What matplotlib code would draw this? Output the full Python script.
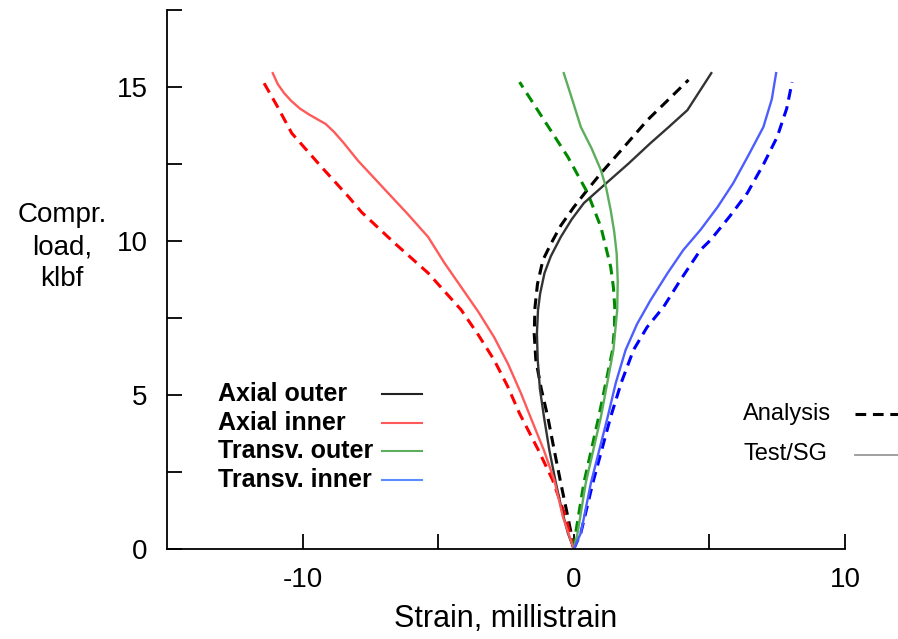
import matplotlib
matplotlib.use("Agg")
import matplotlib.pyplot as plt
from matplotlib.lines import Line2D

plt.rcParams["font.family"] = ["Liberation Sans", "DejaVu Sans"]
plt.rcParams["axes.unicode_minus"] = False

# load in klbf, strain in millistrain
ax_out_test_load = [0, 0.52, 1.3, 2.14, 3.2, 4.29, 5.2, 6.14, 7.0, 7.76, 8.3, 8.96, 9.5, 10.13, 10.7, 11.23, 11.88, 12.5, 13.18, 13.7, 14.25, 15.45]
ax_out_test_strain = [0, -0.22, -0.45, -0.66, -0.9, -1.1, -1.25, -1.33, -1.36, -1.32, -1.24, -1.08, -0.85, -0.48, -0.08, 0.37, 1.2, 2.0, 2.83, 3.5, 4.19, 5.07]
ax_out_ana_load = [0, 0.52, 1.3, 2.14, 3.2, 4.29, 5.2, 6.14, 7.0, 7.86, 8.6, 9.38, 9.9, 10.5, 11.1, 11.66, 12.2, 13.0, 13.93, 14.6, 15.23]
ax_out_ana_strain = [0, -0.1, -0.28, -0.48, -0.72, -0.96, -1.2, -1.4, -1.46, -1.43, -1.34, -1.14, -0.85, -0.48, 0.0, 0.5, 1.0, 1.8, 2.72, 3.5, 4.23]

ax_in_test_load = [0, 1.04, 2.24, 3.2, 4.29, 5.06, 6.0, 6.88, 7.7, 8.5, 9.3, 10.13, 10.9, 11.56, 12.1, 12.6, 13.2, 13.55, 13.8, 13.95, 14.1, 14.3, 14.55, 14.8, 15.1, 15.45]
ax_in_test_strain = [0, -0.4, -0.72, -1.1, -1.6, -1.95, -2.42, -2.94, -3.52, -4.15, -4.78, -5.37, -6.15, -6.85, -7.42, -7.95, -8.5, -8.85, -9.15, -9.45, -9.75, -10.1, -10.42, -10.68, -10.92, -11.1]
ax_in_ana_load = [0, 1.04, 2.24, 3.2, 4.4, 5.3, 6.14, 6.95, 7.76, 8.96, 9.94, 10.94, 11.43, 12.4, 13.5, 14.4, 15.2]
ax_in_ana_strain = [0, -0.3, -0.78, -1.3, -2.0, -2.45, -2.94, -3.52, -4.15, -5.37, -6.62, -7.83, -8.3, -9.3, -10.4, -10.95, -11.47]

tr_out_test_load = [0, 0.52, 2.14, 4.29, 6.46, 7.76, 8.7, 9.6, 10.3, 11.0, 11.7, 12.3, 13.0, 13.7, 14.6, 15.45]
tr_out_test_strain = [0, 0.14, 0.44, 1.0, 1.46, 1.6, 1.62, 1.58, 1.49, 1.36, 1.2, 1.0, 0.66, 0.26, -0.06, -0.37]
tr_out_ana_load = [0, 0.52, 2.14, 4.29, 6.46, 7.2, 7.86, 8.5, 9.16, 10.45, 11.56, 12.73, 13.93, 15.16]
tr_out_ana_strain = [0, 0.07, 0.37, 0.92, 1.43, 1.5, 1.51, 1.46, 1.36, 1.0, 0.51, -0.22, -1.1, -2.0]

tr_in_test_load = [0, 0.52, 2.14, 4.29, 5.4, 6.46, 7.3, 8.08, 8.96, 9.71, 10.36, 11.1, 11.88, 12.8, 13.7, 14.6, 15.45]
tr_in_test_strain = [0, 0.26, 0.63, 1.25, 1.55, 1.91, 2.33, 2.83, 3.46, 4.04, 4.67, 5.3, 5.88, 6.45, 6.99, 7.3, 7.46]
tr_in_ana_load = [0, 0.52, 2.14, 4.29, 5.4, 6.46, 7.2, 7.86, 8.73, 9.71, 10.03, 10.8, 11.56, 12.5, 13.38, 14.3, 15.16]
tr_in_ana_strain = [0, 0.26, 0.7, 1.36, 1.75, 2.2, 2.7, 3.31, 3.93, 4.67, 5.04, 5.75, 6.4, 7.0, 7.5, 7.85, 8.05]

series_labels = ["Axial outer", "Axial inner", "Transv. outer", "Transv. inner"]
style_labels = ["Analysis", "Test/SG"]

test_colors = ["#333333", "#ff5a5a", "#5cad5c", "#4d5eff"]
ana_colors = ["black", "red", "#008a00", "blue"]
legend_colors = ["#222222", "#ff5a5a", "#5cad5c", "#5a8cff"]

fig = plt.figure(figsize=(8.98, 6.39), dpi=100)
ax = fig.add_axes([167 / 898, 1 - 549 / 639, (845 - 167) / 898, (549 - 10) / 639])

tests = [(ax_out_test_strain, ax_out_test_load), (ax_in_test_strain, ax_in_test_load),
         (tr_out_test_strain, tr_out_test_load), (tr_in_test_strain, tr_in_test_load)]
anas = [(ax_out_ana_strain, ax_out_ana_load), (ax_in_ana_strain, ax_in_ana_load),
        (tr_out_ana_strain, tr_out_ana_load), (tr_in_ana_strain, tr_in_ana_load)]

for (x, y), c in zip(anas, ana_colors):
    ax.plot(x, y, color=c, lw=2.2, dashes=(3.5, 2.2))
for (x, y), c in zip(tests, test_colors):
    ax.plot(x, y, color=c, lw=1.7, solid_joinstyle="round")

ax.set_xlim(-15, 10)
ax.set_ylim(0, 17.5)
ax.spines["top"].set_visible(False)
ax.spines["right"].set_visible(False)
for s in ["left", "bottom"]:
    ax.spines[s].set_linewidth(1.3)

ax.set_xticks([-10, 0, 10])
ax.set_xticks([-5, 5], minor=True)
ax.set_yticks([0, 5, 10, 15])
ax.set_yticks([2.5, 7.5, 12.5, 17.5], minor=True)
ax.tick_params(which="both", direction="in", length=11, width=1.3)
ax.tick_params(axis="x", which="major", labelsize=20, pad=13)
ax.tick_params(axis="y", which="major", labelsize=20, pad=14)

ax.set_xlabel("Strain, millistrain", fontsize=22, labelpad=8)
fig.text(62 / 898, 1 - 247 / 639, "Compr.\nload,\nklbf", ha="center", va="center",
         fontsize=20, linespacing=1.3)

# series legend: text left, line sample right
row_y = [394, 423, 451, 480]
for lab, c, yy in zip(series_labels, legend_colors, row_y):
    fig.text(218 / 898, 1 - yy / 639, lab, ha="left", va="center", fontsize=18, fontweight="bold")
    fig.add_artist(Line2D([382 / 898, 422 / 898], [1 - yy / 639] * 2, color=c, lw=1.5))

# line style legend
fig.text(743 / 898, 1 - 414 / 639, style_labels[0], ha="left", va="center", fontsize=17)
fig.add_artist(Line2D([855 / 898, 1.0], [1 - 414 / 639] * 2, color="black", lw=2.2, dashes=(3.5, 2.2)))
fig.text(743 / 898, 1 - 454 / 639, style_labels[1], ha="left", va="center", fontsize=17)
fig.add_artist(Line2D([855 / 898, 1.0], [1 - 455 / 639] * 2, color="#999999", lw=1.3))

fig.savefig("out.png", dpi=100)
